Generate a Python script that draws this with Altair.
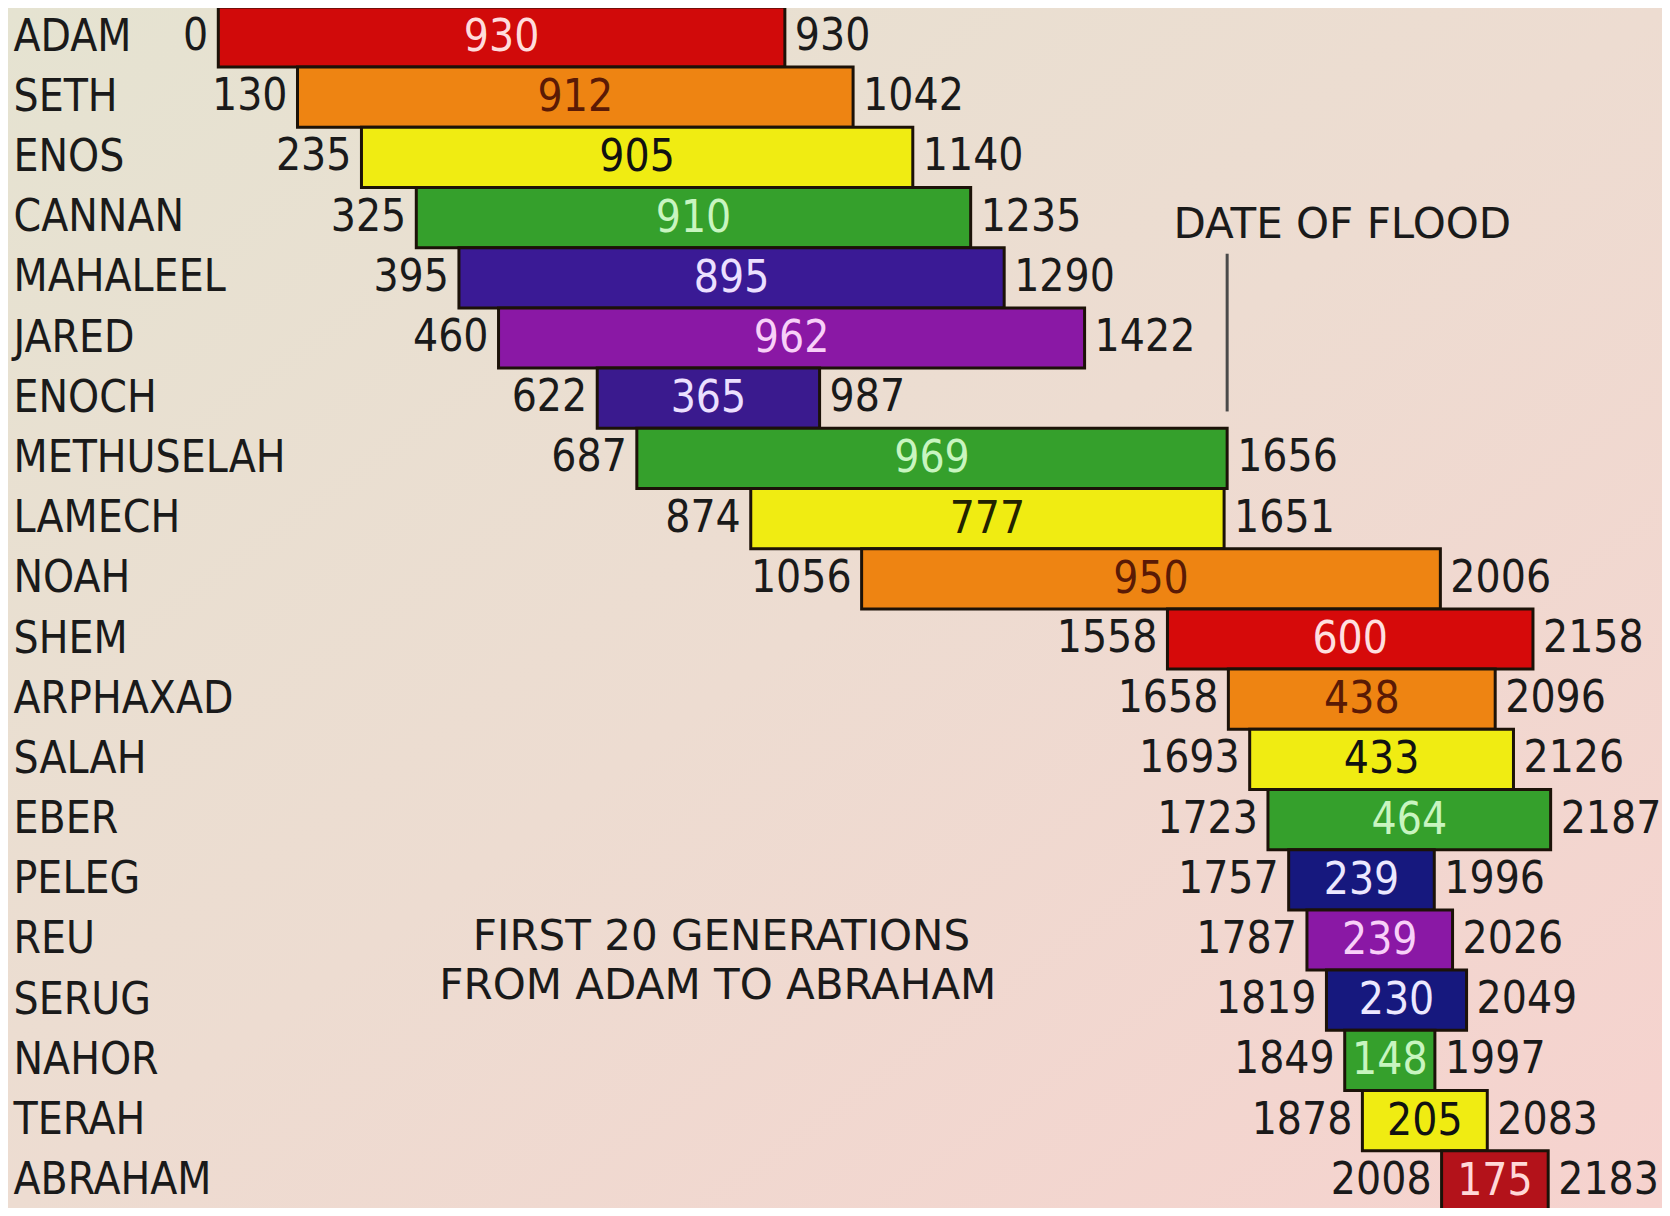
import altair as alt
import pandas as pd

names = ["ADAM", "SETH", "ENOS", "CANNAN", "MAHALEEL", "JARED", "ENOCH",
         "METHUSELAH", "LAMECH", "NOAH", "SHEM", "ARPHAXAD", "SALAH", "EBER",
         "PELEG", "REU", "SERUG", "NAHOR", "TERAH", "ABRAHAM"]
born = [0, 130, 235, 325, 395, 460, 622, 687, 874, 1056, 1558, 1658, 1693,
        1723, 1757, 1787, 1819, 1849, 1878, 2008]
died = [930, 1042, 1140, 1235, 1290, 1422, 987, 1656, 1651, 2006, 2158, 2096,
        2126, 2187, 1996, 2026, 2049, 1997, 2083, 2183]
lifespan = [930, 912, 905, 910, 895, 962, 365, 969, 777, 950, 600, 438, 433,
            464, 239, 239, 230, 148, 205, 175]
bar_colors = ["#d10a0a", "#ee8412", "#f0ec12", "#35a02c", "#3a1a95", "#8a18a5",
              "#3a1a8e", "#35a02c", "#f0ec12", "#ee8412", "#d60a0a", "#ee8412",
              "#f0ec12", "#35a02c", "#16187e", "#8a18a5", "#16187e", "#35a02c",
              "#f0ec12", "#b3121a"]
label_colors = ["#ffdcdc", "#5a1a05", "#111111", "#c8f5c0", "#ece0ff", "#f8d0f8",
                "#ece0ff", "#c8f5c0", "#222200", "#5a1a05", "#ffe0e0", "#5a1a05",
                "#111111", "#c8f5c0", "#ece8ff", "#f8d0f8", "#ece8ff", "#c8f5c0",
                "#111111", "#ffd8d8"]

flood_year = 1656
caption = ["FIRST 20 GENERATIONS", "FROM ADAM TO ABRAHAM"]

W, H = 1654, 1200
FONT = "DejaVu Sans Condensed, DejaVu Sans"
FONT2 = "DejaVu Sans"

df = pd.DataFrame({
    "name": names, "idx": list(range(len(names))), "born": born, "died": died,
    "years": lifespan, "bar": bar_colors, "lbl": label_colors,
})
df["top"] = df["idx"] - 0.5
df["bot"] = df["idx"] + 0.5
df["mid"] = (df["born"] + df["died"]) / 2

xs = alt.Scale(domain=[-345.2, 2369.8], nice=False, zero=False)
ys = alt.Scale(domain=[-0.482, 19.452], nice=False, zero=False, reverse=True)

label_expr = "[" + ",".join("'%s'" % n for n in names) + "][datum.value]"


def yaxis():
    return alt.Axis(
        orient="left", values=list(range(len(names))), labelExpr=label_expr,
        domain=False, ticks=False, grid=False, title=None, offset=-5,
        labelPadding=0, labelAlign="left", labelBaseline="middle",
        labelFont=FONT, labelFontSize=44, labelColor="#1a1a1a", zindex=1,
        labelLimit=600, labelFlush=False, labelOverlap=False, labelBound=False)


base = alt.Chart(df)

bg = alt.Chart(pd.DataFrame({"a": [0]})).mark_rect(
    color={"gradient": "linear", "x1": 0, "y1": 0, "x2": 1, "y2": 1,
           "stops": [{"offset": 0, "color": "#e5e3d1"},
                     {"offset": 0.5, "color": "#eddcd1"},
                     {"offset": 1, "color": "#f6d2ce"}]}
).encode(x=alt.value(0), x2=alt.value(W), y=alt.value(0), y2=alt.value(H))

bars = base.mark_rect(stroke="#1c1208", strokeWidth=3).encode(
    x=alt.X("born:Q", scale=xs, axis=None),
    x2="died:Q",
    y=alt.Y("top:Q", scale=ys, axis=yaxis()),
    y2="bot:Q",
    fill=alt.Fill("bar:N", scale=None),
)

inner = base.mark_text(font=FONT, fontSize=44, baseline="middle", dy=1).encode(
    x=alt.X("mid:Q", scale=xs, axis=None), y=alt.Y("idx:Q", scale=ys, axis=yaxis()),
    text="years:N", color=alt.Color("lbl:N", scale=None))

left = base.mark_text(font=FONT, fontSize=44, baseline="middle", align="right",
                      dx=-10, color="#1a1a1a").encode(
    x=alt.X("born:Q", scale=xs, axis=None), y=alt.Y("idx:Q", scale=ys, axis=yaxis()),
    text="born:N")

right = base.mark_text(font=FONT, fontSize=44, baseline="middle", align="left",
                       dx=10, color="#1a1a1a").encode(
    x=alt.X("died:Q", scale=xs, axis=None), y=alt.Y("idx:Q", scale=ys, axis=yaxis()),
    text="died:N")

flood_df = pd.DataFrame({"x": [flood_year], "y1": [3.6], "y2": [6.22],
                         "tx": [1845], "ty": [3.12], "t": ["DATE OF FLOOD"]})
flood_line = alt.Chart(flood_df).mark_rule(color="#4a4a4a", strokeWidth=3).encode(
    x=alt.X("x:Q", scale=xs, axis=None), y=alt.Y("y1:Q", scale=ys, axis=yaxis()),
    y2="y2:Q")
flood_text = alt.Chart(flood_df).mark_text(
    font=FONT2, fontSize=42, baseline="middle", color="#1a1a1a").encode(
    x=alt.X("tx:Q", scale=xs, axis=None), y=alt.Y("ty:Q", scale=ys, axis=yaxis()),
    text="t:N")

cap_df = pd.DataFrame({"t": caption, "x": [826, 820], "y": [14.95, 15.76]})
cap = alt.Chart(cap_df).mark_text(
    font=FONT2, fontSize=42, baseline="middle", color="#1a1a1a").encode(
    x=alt.X("x:Q", scale=xs, axis=None), y=alt.Y("y:Q", scale=ys, axis=yaxis()),
    text="t:N")

chart = alt.layer(bg, bars, inner, left, right, flood_line, flood_text, cap).properties(
    width=W, height=H, padding=0, autosize=alt.AutoSizeParams(type="none"),
    background="#ebe0d4"
).configure_view(stroke=None)

chart.save("out.html", embed_options={"renderer": "svg", "actions": False})
